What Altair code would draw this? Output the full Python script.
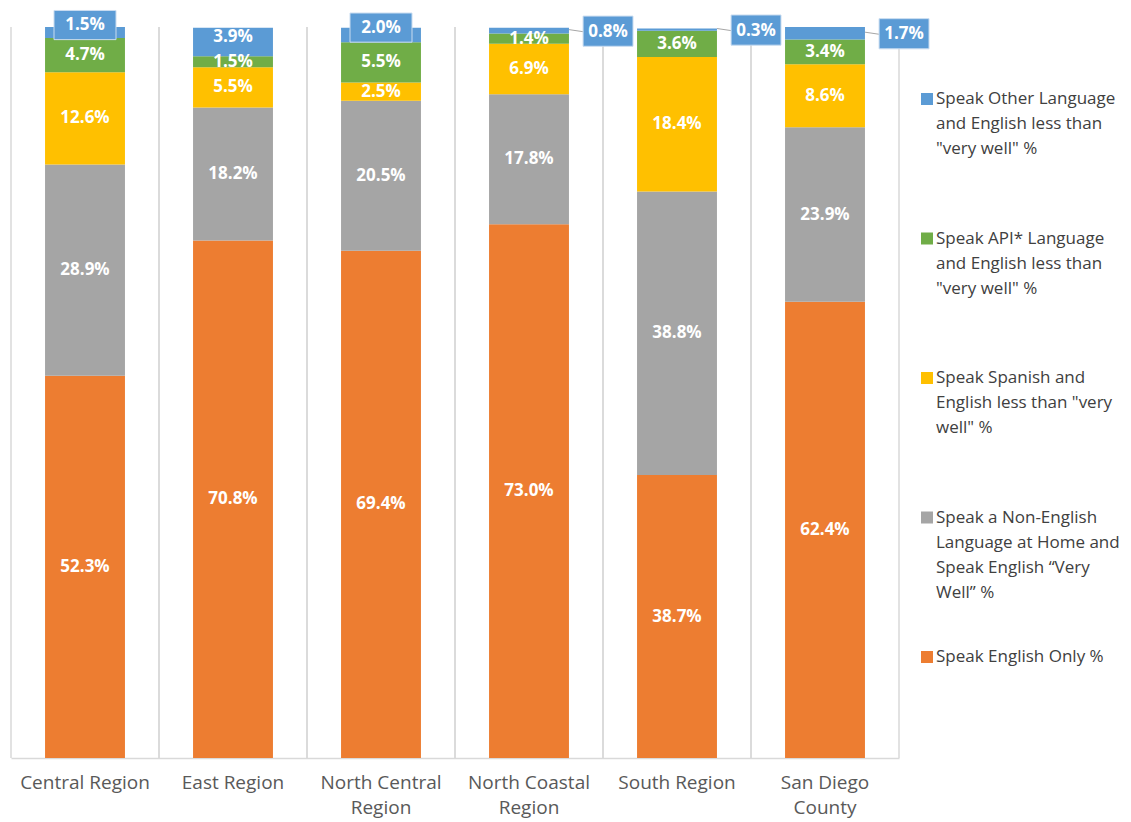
import altair as alt
import pandas as pd

# ---------------- data ----------------
regions = ["Central Region", "East Region", "North Central Region",
           "North Coastal Region", "South Region", "San Diego County"]
region_lines = {
    "North Central Region": ["North Central", "Region"],
    "North Coastal Region": ["North Coastal", "Region"],
    "San Diego County": ["San Diego", "County"],
}

series = [
    "Speak English Only %",
    "Speak a Non-English Language at Home and Speak English \u201cVery Well\u201d %",
    "Speak Spanish and English less than \"very well\" %",
    "Speak API* Language and English less than \"very well\" %",
    "Speak Other Language and English less than \"very well\" %",
]
legend_lines = [
    ["Speak English Only %"],
    ["Speak a Non-English", "Language at Home and", "Speak English \u201cVery", "Well\u201d %"],
    ["Speak Spanish and", "English less than \"very", "well\" %"],
    ["Speak API* Language", "and English less than", "\"very well\" %"],
    ["Speak Other Language", "and English less than", "\"very well\" %"],
]
colors = ["#ED7D31", "#A5A5A5", "#FFC000", "#70AD47", "#5B9BD5"]

english_only = [52.3, 70.8, 69.4, 73.0, 38.7, 62.4]
very_well = [28.9, 18.2, 20.5, 17.8, 38.8, 23.9]
spanish_lw = [12.6, 5.5, 2.5, 6.9, 18.4, 8.6]
api_lw = [4.7, 1.5, 5.5, 1.4, 3.6, 3.4]
other_lw = [1.5, 3.9, 2.0, 0.8, 0.3, 1.7]

# how the small top ("Other") label is shown per region
boxed_regions = ["Central Region", "North Central Region"]
callout_regions = ["North Coastal Region", "South Region", "San Diego County"]

values = [english_only, very_well, spanish_lw, api_lw, other_lw]
rows = []
for ri, reg in enumerate(regions):
    base = 0.0
    for si, s in enumerate(series):
        v = values[si][ri]
        rows.append({"region": reg, "series": s, "value": v, "order": si,
                     "y0": base, "y1": base + v, "mid": base + v / 2,
                     "label": f"{v:.1f}%"})
        base += v
df = pd.DataFrame(rows)

other = series[-1]
inside = df[df.series != other]
plain_other = df[(df.series == other) & (~df.region.isin(boxed_regions + callout_regions))]
boxed = df[(df.series == other) & (df.region.isin(boxed_regions))]
callout = df[(df.series == other) & (df.region.isin(callout_regions))]

W, H = 888, 731
FONT = "Open Sans"

label_expr = "".join(
    f"datum.label == '{k}' ? {v!r} : " for k, v in region_lines.items()
) + "datum.label"

xscale = alt.Scale(domain=regions, paddingInner=0, paddingOuter=0)
x_axis = alt.Axis(title=None, labelAngle=0, labelAlign="center", labelBaseline="top",
                  ticks=False, domainColor="#D9D9D9",
                  domainWidth=1.5, labelColor="#595959", labelFontSize=19,
                  labelFont=FONT, labelPadding=15, labelLineHeight=25,
                  labelExpr=label_expr, grid=False, labelLimit=300)
x_enc = alt.X("region:N", scale=xscale, axis=x_axis, sort=regions)
x_plain = alt.X("region:N", scale=xscale, sort=regions)
y_scale = alt.Scale(domain=[0, 100])
y_mid = alt.Y("mid:Q", scale=y_scale, axis=None)

bars = alt.Chart(df).mark_bar(strokeWidth=0, width=alt.RelativeBandSize(0.54)).encode(
    x=x_enc,
    y=alt.Y("y0:Q", scale=y_scale, axis=None),
    y2="y1:Q",
    color=alt.Color("series:N", scale=alt.Scale(domain=series, range=colors), legend=None),
)

reg_df = pd.DataFrame({"region": regions})
grid_l = alt.Chart(reg_df).mark_rule(color="#D9D9D9", strokeWidth=1.5).encode(
    x=alt.X("region:N", scale=xscale, sort=regions, bandPosition=0),
    y=alt.value(0), y2=alt.value(H))
grid_r = alt.Chart(reg_df).mark_rule(color="#D9D9D9", strokeWidth=1.5).encode(
    x=alt.X("region:N", scale=xscale, sort=regions, bandPosition=1),
    y=alt.value(0), y2=alt.value(H))

txt_kw = dict(color="white", fontWeight="bold", fontSize=17, font=FONT, align="center",
              baseline="middle")

inside_txt = alt.Chart(inside).mark_text(**txt_kw).encode(
    x=x_plain, y=y_mid, text="label:N")
plain_other_txt = alt.Chart(plain_other).mark_text(dy=-5, **txt_kw).encode(
    x=x_plain, y=y_mid, text="label:N")

# boxed labels: 62 px wide box (scale 31 px per unit)
box_shape = "M-1,-0.71L1,-0.71L1,0.23L-1,0.23Z"
boxed_box = alt.Chart(boxed).mark_point(shape=box_shape, filled=True, fill="#5B9BD5",
                                         stroke="#C9DCF0", strokeWidth=1, opacity=1,
                                         size=3844).encode(x=x_plain, y=y_mid)
boxed_txt = alt.Chart(boxed).mark_text(dy=-7, **txt_kw).encode(
    x=x_plain, y=y_mid, text="label:N")

# callouts: 26 px per unit
leader = alt.Chart(callout).mark_point(shape="M1.54,-0.04L2.08,0.04", filled=False,
                                        stroke="#A6A6A6", strokeWidth=1, opacity=1,
                                        size=2704).encode(x=x_plain, y=y_mid)
callout_box = alt.Chart(callout).mark_point(
    shape="M2.08,-0.56L4.0,-0.56L4.0,0.6L2.08,0.6Z", filled=True, fill="#5B9BD5",
    stroke="#C9DCF0", strokeWidth=1, opacity=1, size=2704).encode(x=x_plain, y=y_mid)
callout_txt = alt.Chart(callout).mark_text(dx=79, dy=1, **txt_kw).encode(
    x=x_plain, y=y_mid, text="label:N")

main = alt.layer(grid_l, grid_r, bars, inside_txt, plain_other_txt, boxed_box, boxed_txt,
                 leader, callout_box, callout_txt)

# ---------------- legend (drawn to the right of the plot area) ----------------
leg_order = list(reversed(series))
leg_df = pd.DataFrame({"series": series, "lines": legend_lines})
leg_y = alt.Y("series:N", sort=leg_order,
              scale=alt.Scale(domain=leg_order, range=[72, 630], padding=0), axis=None)
leg_sym = alt.Chart(leg_df).mark_square(size=144, opacity=1).encode(
    x=alt.value(W + 28), y=leg_y,
    color=alt.Color("series:N", scale=alt.Scale(domain=series, range=colors), legend=None))
leg_txt = alt.Chart(leg_df).mark_text(align="left", baseline="top", dy=-8, fontSize=17,
                                      font=FONT, color="#404040", lineHeight=25).encode(
    x=alt.value(W + 37), y=leg_y, text="lines")
legend = alt.layer(leg_sym, leg_txt)

chart = alt.layer(main, legend).resolve_scale(y="independent").properties(
    width=W, height=H,
    padding={"left": 2, "top": 0, "right": 0, "bottom": 25}
).configure_view(stroke=None)

chart.save("out.html", embed_options={"renderer": "svg", "actions": False})
